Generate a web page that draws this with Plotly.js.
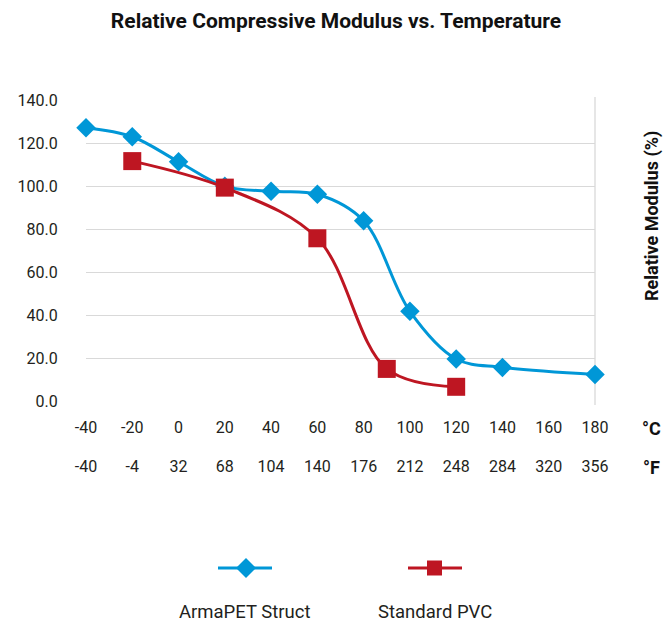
<!DOCTYPE html>
<html>
<head>
<meta charset="utf-8">
<script src="https://cdn.plot.ly/plotly-3.0.1.min.js"></script>
<style>
  html, body { margin: 0; padding: 0; background: #ffffff; }
  #chart { width: 664px; height: 627px; }
</style>
</head>
<body>
<div id="chart"></div>
<script>
// ---- Data ----
const celsiusTicks = [-40, -20, 0, 20, 40, 60, 80, 100, 120, 140, 160, 180];
const celsiusLabels = ['-40', '-20', '0', '20', '40', '60', '80', '100', '120', '140', '160', '180'];
const fahrenheitLabels = ['-40', '-4', '32', '68', '104', '140', '176', '212', '248', '284', '320', '356'];
const yTicks = [0, 20, 40, 60, 80, 100, 120, 140];

const armaTemp = [-40, -20, 0, 20, 40, 60, 80, 100, 120, 140, 180];
const armaModulus = [127.2, 123.0, 111.4, 100.0, 97.7, 96.3, 84.0, 42.0, 19.9, 16.0, 12.7];

const pvcTemp = [-20, 20, 60, 90, 120];
const pvcModulus = [111.7, 99.4, 75.9, 15.3, 7.0];

const seriesNames = ['ArmaPET Struct', 'Standard PVC'];
const chartTitle = 'Relative Compressive Modulus vs. Temperature';
const yTitle = 'Relative Modulus (%)';

// ---- Style / layout ----
const W = 664, H = 627;
const M = { l: 86, r: 69, t: 100, b: 225 };
const PW = W - M.l - M.r, PH = H - M.t - M.b;
const px = x => (x - M.l) / PW;
const py = y => (H - M.b - y) / PH;

const BLUE = '#0097d7';
const RED = '#be1622';
const GRID = '#d9d9d9';
const TXT = '#231f20';
const FONT = 'Roboto, "DejaVu Sans", sans-serif';

const traces = [
  {
    x: armaTemp, y: armaModulus, name: seriesNames[0],
    type: 'scatter', mode: 'lines+markers', xaxis: 'x', yaxis: 'y',
    line: { color: BLUE, width: 3, shape: 'spline', smoothing: 1 },
    marker: { symbol: 'diamond', size: 15, color: BLUE },
    cliponaxis: false, showlegend: false, hoverinfo: 'x+y'
  },
  {
    x: pvcTemp, y: pvcModulus, name: seriesNames[1],
    type: 'scatter', mode: 'lines+markers', xaxis: 'x2', yaxis: 'y',
    line: { color: RED, width: 3, shape: 'spline', smoothing: 1 },
    marker: { symbol: 'square', size: 18, color: RED },
    cliponaxis: false, showlegend: false, hoverinfo: 'x+y'
  }
];

const tickFont = { family: FONT, size: 16, color: TXT };

const layout = {
  width: W, height: H,
  margin: M,
  paper_bgcolor: '#ffffff', plot_bgcolor: '#ffffff',
  showlegend: false,
  title: {
    text: chartTitle,
    x: 336 / W, xref: 'container', xanchor: 'center',
    y: 1 - 21 / H, yref: 'container', yanchor: 'middle',
    font: { family: FONT, size: 21, color: '#111111', weight: 700 }
  },
  xaxis: {
    range: [-40, 180], tickmode: 'array', tickvals: celsiusTicks, ticktext: celsiusLabels,
    showgrid: false, zeroline: false, showline: false,
    ticks: 'outside', ticklen: 11, tickcolor: 'rgba(0,0,0,0)',
    tickfont: tickFont, fixedrange: true
  },
  xaxis2: {
    overlaying: 'x', anchor: 'y', side: 'bottom',
    range: [-40, 180], tickmode: 'array', tickvals: celsiusTicks, ticktext: fahrenheitLabels,
    showgrid: false, zeroline: false, showline: false,
    ticks: 'outside', ticklen: 50, tickcolor: 'rgba(0,0,0,0)',
    tickfont: tickFont, fixedrange: true
  },
  yaxis: {
    range: [-0.05, 140.05], tickmode: 'array', tickvals: yTicks,
    tickformat: '.1f', showgrid: true, gridcolor: GRID, gridwidth: 1.3,
    zeroline: false, showline: false,
    ticks: 'outside', ticklen: 24, tickcolor: 'rgba(0,0,0,0)',
    tickfont: tickFont, fixedrange: true
  },
  shapes: [
    // right border line of plot area
    { type: 'line', xref: 'paper', yref: 'paper', x0: 1, x1: 1, y0: py(405), y1: py(97),
      line: { color: GRID, width: 1.3 }, layer: 'below' },
    // legend sample: ArmaPET Struct
    { type: 'line', xref: 'paper', yref: 'paper', x0: px(218), x1: px(272), y0: py(568), y1: py(568),
      line: { color: BLUE, width: 3 } },
    { type: 'path', xref: 'paper', yref: 'paper',
      path: `M${px(236)},${py(568)} L${px(246)},${py(558)} L${px(256)},${py(568)} L${px(246)},${py(578)} Z`,
      fillcolor: BLUE, line: { width: 0 } },
    // legend sample: Standard PVC
    { type: 'line', xref: 'paper', yref: 'paper', x0: px(408), x1: px(462), y0: py(568), y1: py(568),
      line: { color: RED, width: 3 } },
    { type: 'rect', xref: 'paper', yref: 'paper', x0: px(427), x1: px(442), y0: py(560.5), y1: py(575.5),
      fillcolor: RED, line: { width: 0 } }
  ],
  annotations: [
    { text: yTitle, xref: 'paper', yref: 'paper', x: px(652), y: py(216), textangle: -90,
      showarrow: false, xanchor: 'center', yanchor: 'middle',
      font: { family: FONT, size: 18, color: '#111111', weight: 700 } },
    { text: '°C', xref: 'paper', yref: 'paper', x: px(651), y: py(428), showarrow: false,
      xanchor: 'center', yanchor: 'middle', font: { family: FONT, size: 18, color: '#111111', weight: 700 } },
    { text: '°F', xref: 'paper', yref: 'paper', x: px(651), y: py(467), showarrow: false,
      xanchor: 'center', yanchor: 'middle', font: { family: FONT, size: 18, color: '#111111', weight: 700 } },
    { text: seriesNames[0], xref: 'paper', yref: 'paper', x: px(245), y: py(612), showarrow: false,
      xanchor: 'center', yanchor: 'middle', font: { family: FONT, size: 18.5, color: TXT } },
    { text: seriesNames[1], xref: 'paper', yref: 'paper', x: px(435), y: py(612), showarrow: false,
      xanchor: 'center', yanchor: 'middle', font: { family: FONT, size: 18.5, color: TXT } }
  ]
};

Plotly.newPlot('chart', traces, layout, { displayModeBar: false, staticPlot: false });
</script>
</body>
</html>
